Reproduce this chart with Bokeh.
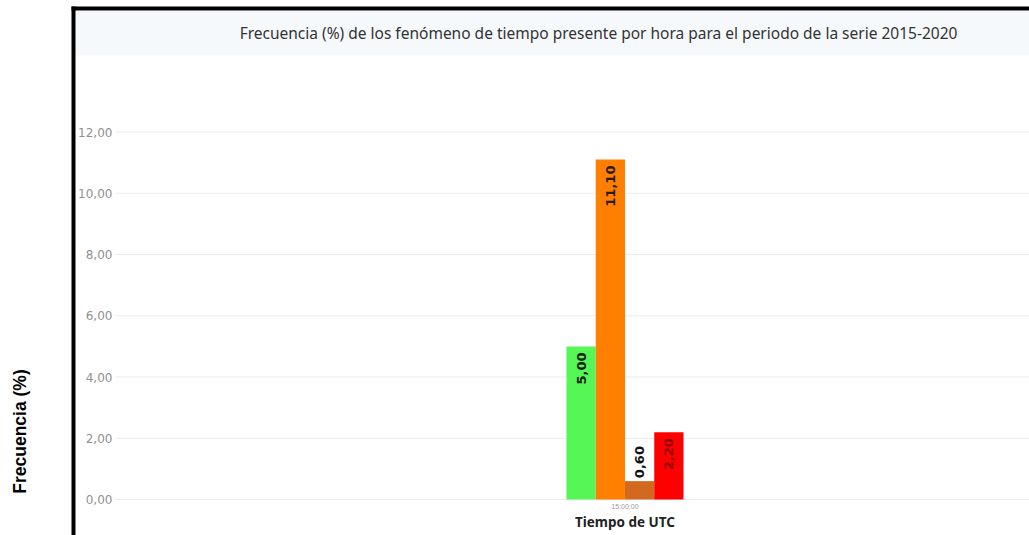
import math
from bokeh.plotting import figure
from bokeh.models import (ColumnDataSource, Range1d, FixedTicker, BoxAnnotation,
                          Label)
from bokeh.core.properties import value
from bokeh.embed import file_html
from bokeh.resources import INLINE

# ---------------- data ----------------
categories = ["15:00:00"]
series_values = [5.00, 11.10, 0.60, 2.20]
series_labels = ["5,00", "11,10", "0,60", "2,20"]
series_colors = ["#55f655", "#ff7f00", "#d2691e", "#ff0000"]
label_colors = ["#102010", "#2a1a0a", "#111111", "#8e0000"]
y_ticks = [0, 2, 4, 6, 8, 10, 12]
y_tick_labels = ["0,00", "2,00", "4,00", "6,00", "8,00", "10,00", "12,00"]
title_text = ("Frecuencia (%) de los fenómeno de tiempo presente por hora "
              "para el periodo de la serie 2015-2020")
x_axis_title = "Tiempo de UTC"
y_axis_title = "Frecuencia (%)"

# ---------------- layout ----------------
W, H = 1029, 535
bar_w = 0.2
n = len(series_values)
offsets = [(i - (n - 1) / 2) * bar_w for i in range(n)]
y_axis_x = -3.484

p = figure(width=W, height=H, output_backend="svg", toolbar_location=None,
           x_range=Range1d(-4.270, 2.766), y_range=Range1d(-1.1755, 16.294),
           min_border=0)
p.outline_line_color = None
p.background_fill_color = "white"
p.border_fill_color = "white"

def screen_box(l, r, b, t, color, level="annotation"):
    return BoxAnnotation(left=l, right=r, bottom=b, top=t,
                         left_units="screen", right_units="screen",
                         top_units="screen", bottom_units="screen",
                         fill_color=color, fill_alpha=1, line_color=None,
                         level=level)

# title panel + black border of the chart (screen units, y up from bottom)
p.add_layout(screen_box(75, W, H - 55, H - 10, "#f6f9fc", "underlay"))
p.add_layout(screen_box(71, 75, 0, H - 6, "black"))
p.add_layout(screen_box(71, W, H - 10, H - 6, "black"))
p.add_layout(Label(x=598, y=H - 32, x_units="screen", y_units="screen",
                   text=title_text, text_align="center", text_baseline="middle",
                   text_font="Noto Sans", text_font_size="15.5px",
                   text_color="#333333"))
p.add_layout(Label(x=19, y=H - 431, x_units="screen", y_units="screen",
                   text=y_axis_title, angle=math.pi / 2, text_align="center",
                   text_baseline="middle", text_font="Liberation Sans",
                   text_font_style="bold", text_font_size="17.5px",
                   text_color="black"))

# grid lines (from the y axis to the right edge)
p.segment(x0=[y_axis_x] * len(y_ticks), x1=[p.x_range.end] * len(y_ticks),
          y0=y_ticks, y1=y_ticks, line_color="#ebebeb", line_width=1)

src = ColumnDataSource(dict(
    x=[0 + o for o in offsets], top=series_values, color=series_colors,
))
p.vbar(x="x", top="top", width=bar_w, color="color", source=src, line_color=None)

# value labels (read upwards): inside top of bar when tall enough, else above
inside = [v > 1.5 for v in series_values]
lab_src = ColumnDataSource(dict(
    x=[0 + o for o in offsets], y=series_values, text=series_labels,
    color=label_colors,
    align=["right" if f else "left" for f in inside],
    yoff=[6 if f else -3 for f in inside],
))
p.text(x="x", y="y", text="text", source=lab_src, angle=math.pi / 2,
       text_align="align", text_baseline="middle", y_offset="yoff",
       text_color="color", text_font=value("DejaVu Sans"),
       text_font_style="bold", text_font_size="13px")

# axes drawn inside the frame at fixed locations
p.yaxis.fixed_location = y_axis_x
p.yaxis.ticker = FixedTicker(ticks=y_ticks)
p.yaxis.major_label_overrides = {t: l for t, l in zip(y_ticks, y_tick_labels)}
p.yaxis.axis_line_color = None
p.yaxis.major_tick_line_color = None
p.yaxis.major_tick_out = 0
p.yaxis.major_tick_in = 0
p.yaxis.minor_tick_line_color = None
p.yaxis.major_label_standoff = 3
p.yaxis.major_label_text_font = "DejaVu Sans"
p.yaxis.major_label_text_font_size = "12px"
p.yaxis.major_label_text_color = "#909090"

p.xaxis.fixed_location = 0
p.xaxis.ticker = FixedTicker(ticks=[0])
p.xaxis.major_label_overrides = {0: categories[0]}
p.xaxis.axis_line_color = None
p.xaxis.major_tick_line_color = None
p.xaxis.major_tick_out = 0
p.xaxis.major_tick_in = 0
p.xaxis.minor_tick_line_color = None
p.xaxis.major_label_standoff = 3
p.xaxis.major_label_text_font_size = "7px"
p.xaxis.major_label_text_color = "#9a9a9a"

p.add_layout(Label(x=0, y=H - 521, x_units="data", y_units="screen",
                   text=x_axis_title, text_align="center",
                   text_baseline="middle", text_font="Noto Sans",
                   text_font_style="bold", text_font_size="13.5px",
                   text_color="#222222"))

p.xgrid.grid_line_color = None
p.ygrid.grid_line_color = None

open("out.html", "w").write(file_html(p, INLINE))
